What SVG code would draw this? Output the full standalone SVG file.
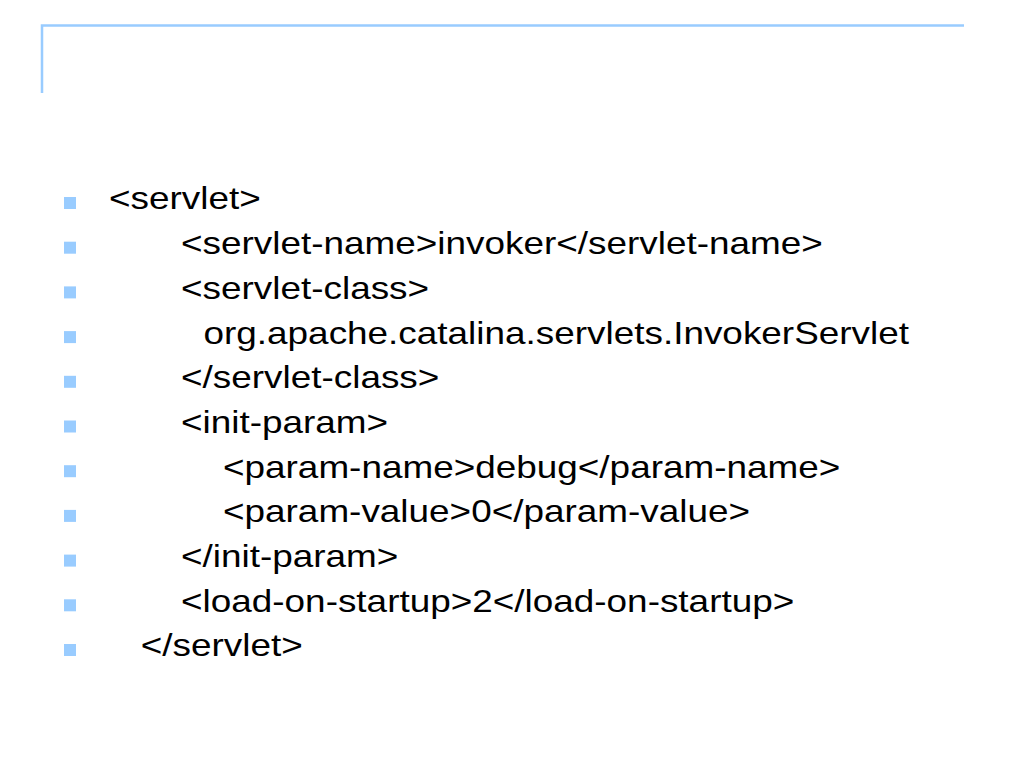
<svg xmlns="http://www.w3.org/2000/svg" width="1024" height="768" viewBox="0 0 1024 768">
<style>
.t{font-family:"Liberation Sans",Arial,sans-serif;font-size:30.5px;fill:#000}
.b{fill:#99CCFF}
.f{stroke:#99CCFF;stroke-width:2.5;fill:none}
</style>
<rect width="1024" height="768" fill="#fff"/>
<g id="frame">
<path class="f" d="M42,93 V25.5 H964"/>
</g>
<g id="bullets">
<rect class="b" x="64" y="197" width="12" height="12"/>
<rect class="b" x="64" y="241.7" width="12" height="12"/>
<rect class="b" x="64" y="286.4" width="12" height="12"/>
<rect class="b" x="64" y="331.1" width="12" height="12"/>
<rect class="b" x="64" y="375.8" width="12" height="12"/>
<rect class="b" x="64" y="420.5" width="12" height="12"/>
<rect class="b" x="64" y="465.2" width="12" height="12"/>
<rect class="b" x="64" y="509.9" width="12" height="12"/>
<rect class="b" x="64" y="554.6" width="12" height="12"/>
<rect class="b" x="64" y="599.3" width="12" height="12"/>
<rect class="b" x="64" y="644" width="12" height="12"/>
</g>
<g id="text" transform="translate(0,1.5) scale(1.21,1)">
<text class="t" x="90.1" y="208">&lt;servlet&gt;</text>
<text class="t" x="149.6" y="252.7">&lt;servlet-name&gt;invoker&lt;/servlet-name&gt;</text>
<text class="t" x="149.6" y="297.4">&lt;servlet-class&gt;</text>
<text class="t" x="168.2" y="342.1">org.apache.catalina.servlets.InvokerServlet</text>
<text class="t" x="149.6" y="386.8">&lt;/servlet-class&gt;</text>
<text class="t" x="149.6" y="431.5">&lt;init-param&gt;</text>
<text class="t" x="184.3" y="476.2">&lt;param-name&gt;debug&lt;/param-name&gt;</text>
<text class="t" x="184.3" y="520.9">&lt;param-value&gt;0&lt;/param-value&gt;</text>
<text class="t" x="149.6" y="565.6">&lt;/init-param&gt;</text>
<text class="t" x="149.6" y="610.3">&lt;load-on-startup&gt;2&lt;/load-on-startup&gt;</text>
<text class="t" x="116.3" y="655">&lt;/servlet&gt;</text>
</g>
</svg>
